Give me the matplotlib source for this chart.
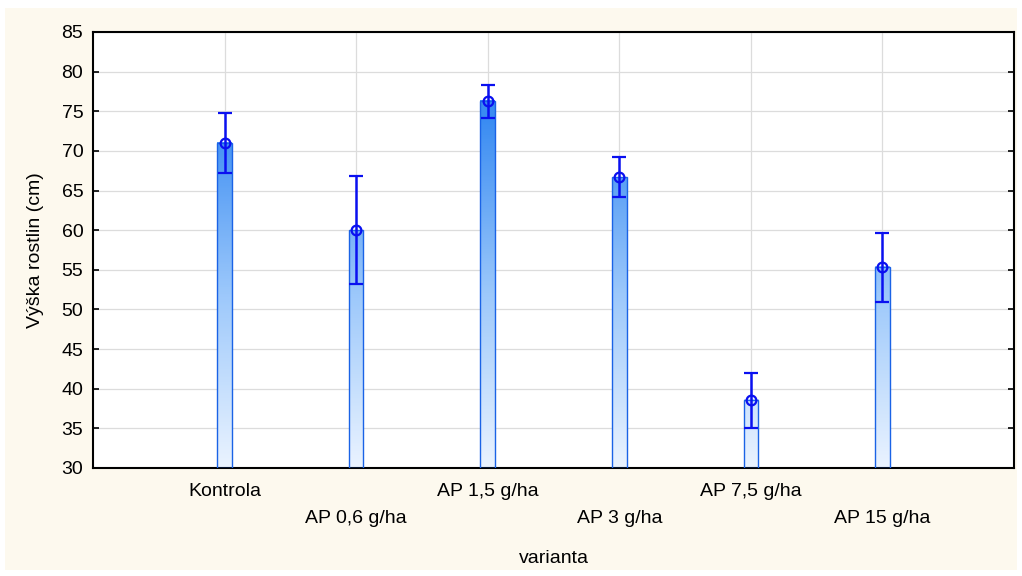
import matplotlib
matplotlib.use("Agg")
import matplotlib.pyplot as plt
import matplotlib.transforms as mtransforms
from matplotlib.colors import LinearSegmentedColormap, Normalize
from matplotlib.patches import Rectangle
import numpy as np

categories = ["Kontrola", "AP 0,6 g/ha", "AP 1,5 g/ha", "AP 3 g/ha", "AP 7,5 g/ha", "AP 15 g/ha"]
means = [71.0, 60.0, 76.3, 66.7, 38.6, 55.4]
upper = [74.8, 66.8, 78.3, 69.2, 42.0, 59.6]
lower = [67.2, 53.2, 74.2, 64.2, 35.0, 50.9]
y_ticks = [30, 35, 40, 45, 50, 55, 60, 65, 70, 75, 80, 85]

plt.rcParams['font.family'] = ['Liberation Sans', 'DejaVu Sans']

W, H = 1022, 576
fig = plt.figure(figsize=(W / 100, H / 100), dpi=100, facecolor="white")
bg = Rectangle((5 / W, 6 / H), 1012 / W, (570 - 8) / H,
               transform=fig.transFigure, facecolor="#FDF9EE",
               edgecolor="none", zorder=-10)
fig.add_artist(bg)
ax = fig.add_axes([93 / W, 1 - 468 / H, (1014 - 93) / W, (468 - 32) / H])
ax.set_zorder(1)
ax.set_facecolor("white")

x = np.arange(1, len(categories) + 1)
ymin, ymax = 30, 85
bw = 0.11

cmap = LinearSegmentedColormap.from_list("g", ["#EAF3FF", "#9CC8FB", "#3A8CF2"])
norm = Normalize(vmin=30, vmax=74)

for xi, m in zip(x, means):
    grad = np.linspace(ymin, m, 200).reshape(-1, 1)
    ax.imshow(grad, cmap=cmap, norm=norm, origin="lower", aspect="auto",
              extent=[xi - bw / 2, xi + bw / 2, ymin, m], zorder=2)
    ax.add_patch(Rectangle((xi - bw / 2, ymin), bw, m - ymin, facecolor="none",
                           edgecolor="#1A63E6", linewidth=1.0, zorder=3))

err = [np.array(means) - np.array(lower), np.array(upper) - np.array(means)]
ax.errorbar(x, means, yerr=err, fmt="o", color="#0A10F0", ecolor="#0A10F0",
            elinewidth=1.8, capsize=5, capthick=1.8, markersize=7,
            markerfacecolor="none", markeredgewidth=1.6, zorder=4)

ax.set_xlim(0, 7)
ax.set_ylim(ymin, ymax)
ax.set_yticks(y_ticks)
ax.set_xticks(x)
ax.set_xticklabels(categories)
ax.grid(True, color="#DCDCDC", linewidth=0.9, zorder=0)
ax.set_axisbelow(True)

for s in ax.spines.values():
    s.set_linewidth(1.5)
    s.set_color("black")

ax.tick_params(axis="y", direction="in", length=4, width=1.2, pad=7, labelsize=14,
               right=True)
ax.tick_params(axis="x", direction="in", length=4, width=1.2, pad=11, labelsize=14)

offset = mtransforms.ScaledTranslation(0, -27 / 100, fig.dpi_scale_trans)
for i, lab in enumerate(ax.get_xticklabels()):
    if i % 2 == 1:
        lab.set_transform(lab.get_transform() + offset)

ax.set_xlabel("varianta", fontsize=14)
ax.set_ylabel("Výška rostlin (cm)", fontsize=14)
ax.xaxis.set_label_coords(0.5, -0.187)
ax.yaxis.set_label_coords(-0.053, 0.5)

fig.savefig("out.png", dpi=100, facecolor=fig.get_facecolor())
